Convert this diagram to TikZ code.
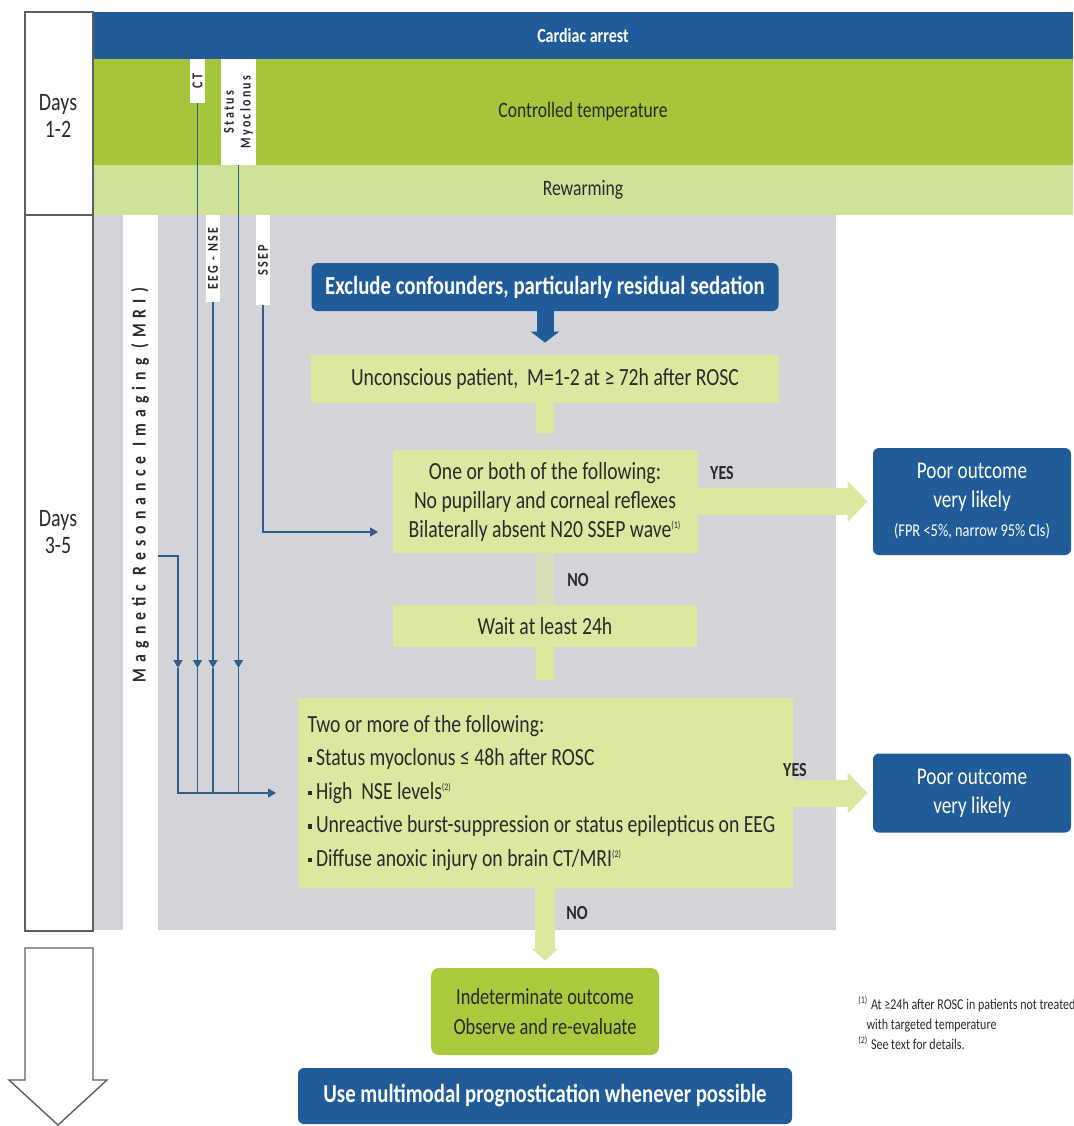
\documentclass[tikz,border=0pt]{standalone}
\usepackage{fontspec}
\setmainfont{Carlito}[FakeStretch=0.8]
\usetikzlibrary{positioning,arrows.meta}
\definecolor{navy}{HTML}{1F5C99}
\definecolor{band}{HTML}{A5C63B}
\definecolor{rewarm}{HTML}{CFE29A}
\definecolor{pale}{HTML}{DAE8A0}
\definecolor{greybg}{HTML}{D2D4D8}
\definecolor{leaf}{HTML}{A8CB3E}
\definecolor{wirec}{HTML}{2F5E8C}
\definecolor{ink}{HTML}{2A2A2A}
\definecolor{framec}{HTML}{5A5F66}
\newcommand{\boxfont}{\fontsize{12.3}{14.5}\selectfont}
\newcommand{\tagfont}{\fontsize{7.5}{8}\selectfont\bfseries\addfontfeatures{LetterSpace=15}}
\newcommand{\mrifont}{\fontsize{9.8}{10}\selectfont\bfseries\addfontfeatures{LetterSpace=31}}
\newcommand{\fnm}[1]{\textsuperscript{\fontsize{5}{5}\selectfont(#1)}}
\newcommand{\sq}{\raisebox{2.2pt}{\rule{2.2pt}{2.2pt}}\,}

\begin{document}
\begin{tikzpicture}[x=0.5pt,y=-0.5pt,
    every node/.style={font=\boxfont,text=ink,inner sep=0pt},
    bluebox/.style={fill=navy,text=white,rounded corners=3pt,align=center},
    palebox/.style={fill=pale,align=center},
    tag/.style={fill=white,font=\tagfont},
    wire/.style={draw=wirec,line width=0.6pt},
    wiretip/.style={-{Triangle[length=4pt,width=4.5pt]}},
    stub/.style={draw=pale,line width=9pt},
    fat/.style={draw=pale,line width=13.5pt,-{Triangle[length=10pt,width=20pt]}},
    decision/.style={font=\fontsize{10}{12}\selectfont\bfseries}]
  \useasboundingbox (0,0) rectangle (1073,1126);
  \fill[greybg] (93,215) rectangle (836,930);
  \node[fill=navy,text=white,font=\fontsize{10}{12}\selectfont\bfseries,minimum width=490pt,minimum height=23.5pt] (ca) at (583,35.5) {Cardiac arrest};
  \node[fill=band,font=\fontsize{11}{13}\selectfont,minimum width=490pt,minimum height=53pt] (temp) at (583,112) {Controlled temperature};
  \node[fill=rewarm,font=\fontsize{11}{13}\selectfont,minimum width=490pt,minimum height=25pt] (rew) at (583,190) {Rewarming};
  \draw[framec,line width=0.7pt] (25,12) rectangle (93,931);
  \draw[framec,line width=0.7pt] (25,215) -- (93,215);
  \node[align=center,font=\fontsize{12.5}{13.5}\selectfont] (d12) at (58,116) {Days\\1-2};
  \node[align=center,font=\fontsize{12.5}{13.5}\selectfont] (d35) at (58,532) {Days\\3-5};

  \node[fill=white,minimum width=17.5pt,minimum height=357.5pt] (mri) at (140.5,572.5) {};
  \node[font=\mrifont] (mrilbl) at (140,485) {\rotatebox{90}{Magnetic Resonance Imaging (MRI)}};
  \node[tag,minimum width=7.5pt,minimum height=22pt] (ct) at (197.5,81) {\rotatebox{90}{CT}};
  \node[tag,minimum width=17.5pt,minimum height=53pt] (sm) at (238.5,112) {\rotatebox{90}{\shortstack{Status\\Myoclonus}}};
  \node[tag,minimum width=7pt,minimum height=43.5pt] (eeg) at (213,258.5) {\rotatebox{90}{EEG - NSE}};
  \node[tag,minimum width=7pt,minimum height=45pt] (ssep) at (263,260) {\rotatebox{90}{SSEP}};

  \node[bluebox,font=\fontsize{13}{15}\selectfont\bfseries,minimum width=233.5pt,minimum height=24pt] (excl) at (545,287) {Exclude confounders, particularly residual sedation};
  \node[palebox,minimum width=234pt,minimum height=24pt] (unc) at (545,379) {Unconscious patient,\ \ M=1-2 at ≥ 72h after ROSC};
  \node[palebox,minimum width=152.5pt,minimum height=51.5pt] (oneb) at (545,501.5) {One or both of the following:\\No pupillary and corneal reflexes\\Bilaterally absent N20 SSEP wave\fnm{1}};
  \node[palebox,minimum width=152pt,minimum height=21pt] (wait) at (545,626) {Wait at least 24h};
  \node[palebox,align=flush left,font=\fontsize{12.3}{16.75}\selectfont,text width=237.5pt,inner xsep=5pt,minimum height=95pt] (two) at (545,793) {Two or more of the following:\\\sq Status myoclonus ≤ 48h after ROSC\\\sq High\ \ NSE levels\fnm{2}\\\sq Unreactive burst-suppression or status epilepticus on EEG\\\sq Diffuse anoxic injury on brain CT/MRI\fnm{2}};
  \node[bluebox,minimum width=99pt,minimum height=53.5pt] (poor1) at (972,501.5) {\fontsize{12}{13}\selectfont Poor outcome\\\fontsize{12}{13}\selectfont very likely\\\fontsize{9}{11.5}\selectfont(FPR <5\%, narrow 95\% CIs)};
  \node[bluebox,minimum width=99pt,minimum height=39.5pt] (poor2) at (972,793) {\fontsize{12}{13}\selectfont Poor outcome\\\fontsize{12}{13}\selectfont very likely};
  \node[fill=leaf,rounded corners=4pt,align=center,font=\fontsize{11.5}{15}\selectfont,minimum width=114pt,minimum height=43.5pt] (indet) at (545,1011.5) {Indeterminate outcome\\Observe and re-evaluate};
  \node[bluebox,font=\fontsize{13}{15}\selectfont\bfseries,minimum width=247pt,minimum height=28pt] (multi) at (545,1096) {Use multimodal prognostication whenever possible};

  \draw[navy,line width=8.5pt,-{Triangle[length=5.5pt,width=14pt]},shorten >=6pt] (excl) -- (unc);
  \draw[stub,shorten >=8.5pt] (unc) -- (oneb);
  \draw[stub,draw=pale!55!greybg] (oneb) -- (wait);
  \draw[stub,shorten >=9pt] (wait) -- (two);
  \draw[stub,line width=10pt,-{Triangle[length=6pt,width=13pt]},shorten >=3.5pt] (two) -- (indet);
  \draw[fat,shorten >=2.5pt] (oneb) -- (poor1);
  \draw[fat,shorten >=2.5pt] (two) -- (poor2);
  \node[decision] (yes1) at (722,473) {YES};
  \node[decision] (no1) at (578,580) {NO};
  \node[decision] (yes2) at (795,770) {YES};
  \node[decision] (no2) at (577,913) {NO};

  \coordinate (mrio) at (158,556);
  \coordinate (busl) at (178,793);
  \coordinate (busr) at (276,793);
  \coordinate (ssepr) at (378,532);
  \draw[wire,wiretip] (mrio) -| (busl |- 0,668);
  \draw[wire,wiretip] (busl |- 0,668) -- (busl) -- (busr);
  \draw[wire,wiretip] (ct.south) -- (ct.south |- 0,668);
  \draw[wire] (ct.south |- 0,668) -- (ct.south |- busl);
  \draw[wire,wiretip] (eeg.south) -- (eeg.south |- 0,668);
  \draw[wire] (eeg.south |- 0,668) -- (eeg.south |- busl);
  \draw[wire,wiretip] (sm.south) -- (sm.south |- 0,668);
  \draw[wire] (sm.south |- 0,668) -- (sm.south |- busl);
  \draw[wire,wiretip] (ssep.south) |- (ssepr);

  \node[anchor=north west,align=left,font=\fontsize{7.5}{10}\selectfont] (notes) at (858,996) {\fnm{1} At ≥24h after ROSC in patients not treated\\\ \ \ with targeted temperature\\\fnm{2} See text for details.};
  \draw[framec,line width=0.7pt] (25,948) -- (93,948) -- (93,1080) -- (107,1080) -- (58,1125) -- (9,1080) -- (25,1080) -- cycle;
\end{tikzpicture}
\end{document}
